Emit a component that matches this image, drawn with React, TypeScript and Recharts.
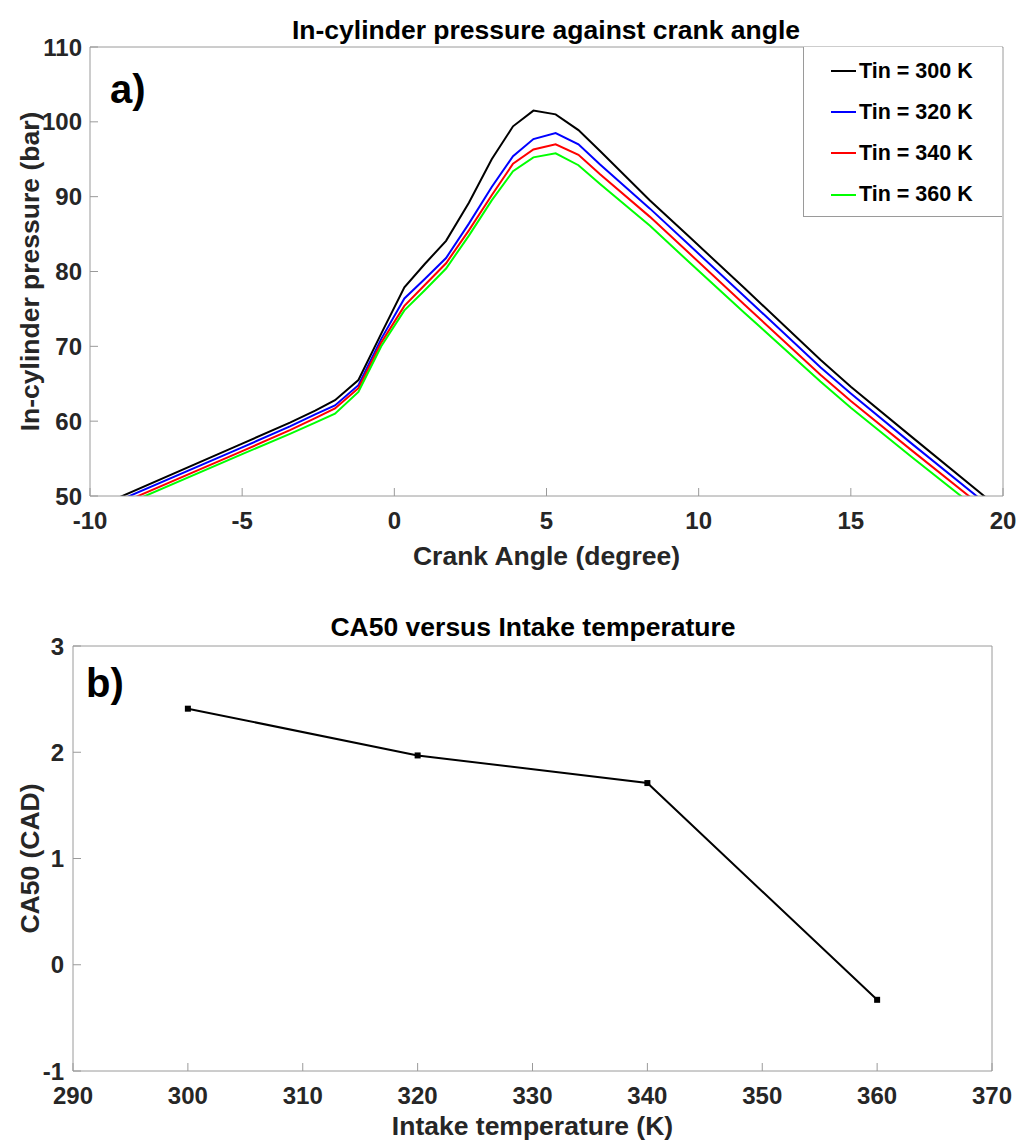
import React from 'react';
import { LineChart, Line, XAxis, YAxis } from 'recharts';

// crank angle (deg) and in-cylinder pressure (bar) for each intake temperature
const crankAngle = [-9.5, -5, -3.43, -2.6, -1.95, -1.18, -0.43, 0.33, 1.0, 1.7, 2.45, 3.2, 3.9, 4.57, 5.3, 6.05, 6.76, 8.4, 9.7, 11.5, 14.0, 15.0, 17.0, 19.8];
const p300 = [49.0, 57.0, 59.8, 61.4, 62.8, 65.5, 71.7, 77.9, 81.0, 84.1, 89.2, 95.0, 99.4, 101.5, 101.0, 98.9, 96.1, 89.5, 84.6, 77.8, 68.2, 64.6, 57.9, 48.6];
const p320 = [48.6, 56.5, 59.3, 60.9, 62.1, 64.8, 71.0, 76.4, 79.0, 81.8, 86.4, 91.3, 95.4, 97.7, 98.5, 97.0, 94.3, 88.4, 83.5, 76.7, 67.2, 63.7, 57.0, 47.8];
const p340 = [48.1, 56.0, 58.8, 60.4, 61.7, 64.4, 70.5, 75.4, 78.2, 81.1, 85.5, 90.2, 94.4, 96.3, 97.0, 95.6, 93.0, 87.3, 82.4, 75.6, 66.2, 62.7, 56.1, 47.0];
const p360 = [47.7, 55.6, 58.3, 59.8, 61.0, 63.9, 70.0, 74.8, 77.5, 80.4, 84.8, 89.5, 93.4, 95.25, 95.8, 94.2, 91.7, 86.1, 81.2, 74.5, 65.3, 61.8, 55.2, 46.2];

const angleTicks = [-10, -5, 0, 5, 10, 15, 20];
const pressureTicks = [50, 60, 70, 80, 90, 100, 110];

// CA50 against intake temperature
const intakeTemp = [300, 320, 340, 360];
const ca50 = [2.41, 1.97, 1.71, -0.33];
const tempTicks = [290, 300, 310, 320, 330, 340, 350, 360, 370];
const ca50Ticks = [-1, 0, 1, 2, 3];

const series = [
  { key: 'p300', name: 'Tin = 300 K', color: '#000000' },
  { key: 'p320', name: 'Tin = 320 K', color: '#0000ff' },
  { key: 'p340', name: 'Tin = 340 K', color: '#ff0000' },
  { key: 'p360', name: 'Tin = 360 K', color: '#00ff00' },
];

const pressureData = crankAngle.map((a, i) => ({
  angle: a,
  p300: p300[i],
  p320: p320[i],
  p340: p340[i],
  p360: p360[i],
}));

const ca50Data = intakeTemp.map((t, i) => ({ temp: t, ca50: ca50[i] }));

const FONT = '"Liberation Sans", Arial, Helvetica, sans-serif';
const AXIS = '#9a9a9a';
const tickStyle = { fill: '#262626', fontSize: 24, fontWeight: 700, fontFamily: FONT };
const labelStyle = { fill: '#262626', fontSize: 26.5, fontWeight: 700, fontFamily: FONT };

const titleStyle: React.CSSProperties = {
  position: 'absolute',
  fontFamily: FONT,
  fontWeight: 700,
  fontSize: 26.5,
  lineHeight: '30px',
  color: '#000',
  whiteSpace: 'nowrap',
  transform: 'translateX(-50%)',
};

const panelStyle: React.CSSProperties = {
  position: 'absolute',
  fontFamily: FONT,
  fontWeight: 700,
  fontSize: 40,
  lineHeight: '46px',
  color: '#000',
};

const SquareDot = (props: any) => {
  const { cx, cy, index } = props;
  return <rect key={`sq-${index}`} x={cx - 3} y={cy - 3} width={6} height={6} fill="#000" />;
};

export default function App() {
  return (
    <div style={{ position: 'absolute', left: 0, top: 0, width: 1021, height: 1142, background: '#fff', overflow: 'hidden' }}>
      {/* panel a */}
      <div style={{ position: 'absolute', left: 0, top: 0 }}>
        <LineChart width={1021} height={580} data={pressureData} margin={{ top: 37, right: 0, bottom: 0, left: 0 }}>
          <XAxis
            dataKey="angle"
            type="number"
            domain={[-10, 20]}
            ticks={angleTicks}
            allowDataOverflow
            height={84}
            stroke={AXIS}
            tickSize={-8}
            tickMargin={24}
            tick={tickStyle}
            label={{ value: 'Crank Angle (degree)', position: 'insideBottom', offset: 15, style: labelStyle }}
          />
          <XAxis xAxisId="top" orientation="top" type="number" domain={[-10, 20]} ticks={angleTicks} height={10} stroke={AXIS} tickSize={-8} tick={false} />
          <YAxis
            type="number"
            domain={[50, 110]}
            ticks={pressureTicks}
            allowDataOverflow
            width={90}
            stroke={AXIS}
            tickSize={-8}
            tickMargin={16}
            tick={tickStyle}
            label={{ value: 'In-cylinder pressure (bar)', angle: -90, position: 'insideLeft', offset: 30, style: { ...labelStyle, textAnchor: 'middle' } }}
          />
          <YAxis yAxisId="right" orientation="right" type="number" domain={[50, 110]} ticks={pressureTicks} width={18} stroke={AXIS} tickSize={-8} tick={false} />
          {series.map(s => (
            <Line
              key={s.key}
              type="linear"
              dataKey={s.key}
              name={s.name}
              stroke={s.color}
              strokeWidth={2}
              dot={false}
              isAnimationActive={false}
            />
          ))}
        </LineChart>
        <div style={{ ...titleStyle, left: 546, top: 15 }}>In-cylinder pressure against crank angle</div>
        <div style={{ ...panelStyle, left: 110, top: 66 }}>a)</div>
        <div
          style={{
            position: 'absolute',
            left: 803,
            top: 47,
            width: 199,
            height: 170,
            border: `1px solid ${AXIS}`,
            borderTop: 'none',
            borderRight: 'none',
            background: '#fff',
            boxSizing: 'border-box',
          }}
        >
          {series.map((s, i) => (
            <div key={s.key} style={{ position: 'absolute', left: 27, top: 11 + i * 41.2, height: 26, display: 'flex', alignItems: 'center' }}>
              <div style={{ width: 25, height: 2, background: s.color, marginRight: 3 }} />
              <span style={{ fontFamily: FONT, fontWeight: 700, fontSize: 21.5, color: '#000', whiteSpace: 'nowrap' }}>{s.name}</span>
            </div>
          ))}
        </div>
      </div>

      {/* panel b */}
      <div style={{ position: 'absolute', left: 0, top: 590 }}>
        <LineChart width={1021} height={552} data={ca50Data} margin={{ top: 46, right: 11, bottom: 0, left: 0 }}>
          <XAxis
            dataKey="temp"
            type="number"
            domain={[290, 370]}
            ticks={tempTicks}
            height={71}
            stroke={AXIS}
            tickSize={-8}
            tickMargin={24}
            tick={tickStyle}
            label={{ value: 'Intake temperature (K)', position: 'insideBottom', offset: 7, style: labelStyle }}
          />
          <XAxis xAxisId="top" orientation="top" type="number" domain={[290, 370]} ticks={tempTicks} height={10} stroke={AXIS} tickSize={-8} tick={false} />
          <YAxis
            type="number"
            domain={[-1, 3]}
            ticks={ca50Ticks}
            width={73}
            stroke={AXIS}
            tickSize={-8}
            tickMargin={17}
            tick={tickStyle}
            label={{ value: 'CA50 (CAD)', angle: -90, position: 'insideLeft', offset: 30, style: { ...labelStyle, textAnchor: 'middle' } }}
          />
          <YAxis yAxisId="right" orientation="right" type="number" domain={[-1, 3]} ticks={ca50Ticks} width={18} stroke={AXIS} tickSize={-8} tick={false} />
          <Line
            type="linear"
            dataKey="ca50"
            stroke="#000"
            strokeWidth={2}
            dot={SquareDot}
            isAnimationActive={false}
          />
        </LineChart>
        <div style={{ ...titleStyle, left: 533, top: 22 }}>CA50 versus Intake temperature</div>
        <div style={{ ...panelStyle, left: 86, top: 70 }}>b)</div>
      </div>
    </div>
  );
}
